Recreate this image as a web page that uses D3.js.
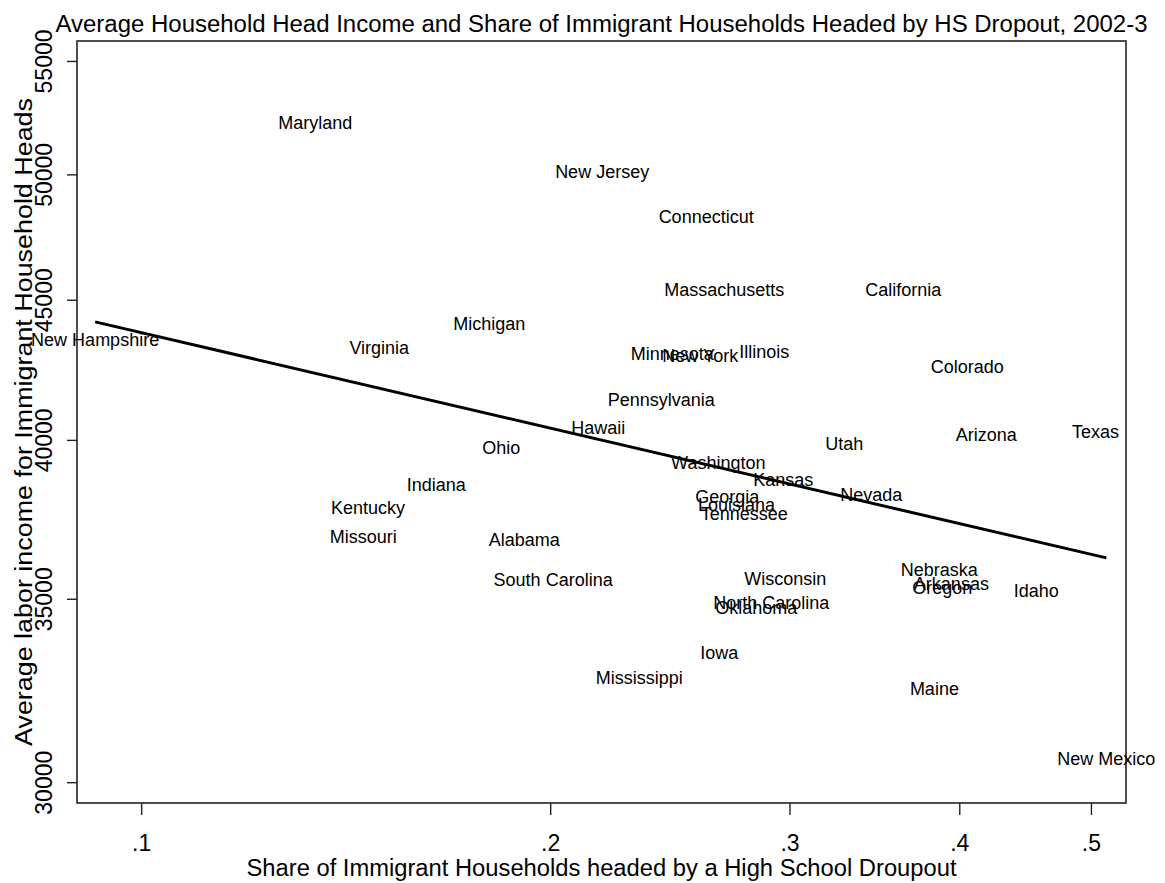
<!DOCTYPE html>
<html>
<head>
<meta charset="utf-8">
<script src="https://cdn.jsdelivr.net/npm/d3@7"></script>
<style>
  body { margin: 0; background: #fff; }
  text { font-family: "Liberation Sans", Arial, sans-serif; fill: #000; }
</style>
</head>
<body>
<div id="chart"></div>
<script>
const w = 1165;
const h = 883;

// state labels, share of immigrant households headed by a HS dropout, avg income
const states = ["Maryland", "New Jersey", "Connecticut", "Massachusetts", "California",
    "Michigan", "Virginia", "New Hampshire", "Minnesota", "New York", "Illinois",
    "Colorado", "Pennsylvania", "Hawaii", "Ohio", "Utah", "Arizona", "Texas",
    "Washington", "Kansas", "Indiana", "Nevada", "Georgia", "Louisiana", "Tennessee",
    "Kentucky", "Missouri", "Alabama", "Nebraska", "Arkansas", "Oregon", "Idaho",
    "South Carolina", "Wisconsin", "North Carolina", "Oklahoma", "Iowa",
    "Mississippi", "Maine", "New Mexico"];
const share = [0.1343, 0.2184, 0.2605, 0.2686, 0.3638,
    0.1804, 0.1497, 0.0925, 0.2460, 0.2579, 0.2875,
    0.4055, 0.2414, 0.2170, 0.1841, 0.3292, 0.4188, 0.5038,
    0.2659, 0.2969, 0.1649, 0.3446, 0.2700, 0.2742, 0.2779,
    0.1469, 0.1457, 0.1914, 0.3867, 0.3947, 0.3887, 0.4558,
    0.2010, 0.2979, 0.2909, 0.2836, 0.2664,
    0.2326, 0.3835, 0.5132];
const income = [52200, 50100, 48240, 45370, 45400,
    44120, 43240, 43500, 42990, 42950, 43070,
    42520, 41360, 40400, 39730, 39860, 40160, 40260,
    39230, 38670, 38510, 38190, 38150, 37870, 37580,
    37770, 36860, 36770, 35880, 35460, 35340, 35230,
    35580, 35610, 34870, 34750, 33440,
    32740, 32440, 30610];
const xTicks = [0.1, 0.2, 0.3, 0.4, 0.5];
const yTicks = [30000, 35000, 40000, 45000, 50000, 55000];

const plot = { left: 77, right: 1126, top: 41, bottom: 803 };

const svg = d3.select("#chart").append("svg")
    .attr("width", w)
    .attr("height", h);

const x = d3.scaleLog().domain([0.0897, 0.5306]).range([plot.left, plot.right]);
const y = d3.scaleLog().domain([29480, 55930]).range([plot.bottom, plot.top]);

const data = states.map((s, i) => ({ name: s, x: share[i], y: income[i] }));

// frame
svg.append("rect")
    .attr("x", plot.left).attr("y", plot.top)
    .attr("width", plot.right - plot.left).attr("height", plot.bottom - plot.top)
    .attr("fill", "none").attr("stroke", "#222").attr("stroke-width", 1.6);

// x axis
const xAxis = svg.append("g")
    .attr("transform", `translate(0,${plot.bottom})`)
    .call(d3.axisBottom(x).tickValues(xTicks).tickSize(12).tickPadding(20)
        .tickFormat(d => d3.format(".1f")(d).replace(/^0/, "")));
xAxis.select(".domain").remove();
xAxis.selectAll("line").attr("stroke", "#222").attr("stroke-width", 1.4);
xAxis.selectAll("text").attr("font-size", 23).attr("fill", "#000")
    .style("font-family", "Liberation Sans, Arial, sans-serif");

// y axis
const yAxis = svg.append("g")
    .attr("transform", `translate(${plot.left},0)`)
    .call(d3.axisLeft(y).tickValues(yTicks).tickSize(10).tickFormat(d3.format("d")));
yAxis.select(".domain").remove();
yAxis.selectAll("line").attr("stroke", "#222").attr("stroke-width", 1.4);
yAxis.selectAll("text")
    .attr("font-size", 23).attr("fill", "#000")
    .style("font-family", "Liberation Sans, Arial, sans-serif")
    .attr("text-anchor", "middle")
    .attr("x", 0).attr("dy", 0)
    .attr("transform", "translate(-25,0) rotate(-90)");

// fitted line: OLS on logs
const lx = data.map(d => Math.log(d.x));
const ly = data.map(d => Math.log(d.y));
const mx = d3.mean(lx), my = d3.mean(ly);
const b = d3.sum(lx, (v, i) => (v - mx) * (ly[i] - my)) / d3.sum(lx, v => (v - mx) * (v - mx));
const a = my - b * mx;
const ext = d3.extent(share);
const fit = ext.map(v => ({ x: v, y: Math.exp(a + b * Math.log(v)) }));

svg.append("path")
    .datum(fit)
    .attr("fill", "none")
    .attr("stroke", "#000")
    .attr("stroke-width", 3)
    .attr("d", d3.line().x(d => x(d.x)).y(d => y(d.y)));

// state labels centred on the point
svg.append("g").selectAll("text")
    .data(data)
    .enter()
    .append("text")
    .attr("x", d => x(d.x))
    .attr("y", d => y(d.y))
    .attr("dy", "0.35em")
    .attr("text-anchor", "middle")
    .attr("font-size", 18)
    .text(d => d.name);

// titles
svg.append("text")
    .attr("x", (plot.left + plot.right) / 2)
    .attr("y", 32)
    .attr("text-anchor", "middle")
    .attr("font-size", 23)
    .attr("textLength", 1092)
    .attr("lengthAdjust", "spacingAndGlyphs")
    .text("Average Household Head Income and Share of Immigrant Households Headed by HS Dropout, 2002-3");

svg.append("text")
    .attr("x", (plot.left + plot.right) / 2)
    .attr("y", 876)
    .attr("text-anchor", "middle")
    .attr("font-size", 23)
    .attr("textLength", 710)
    .attr("lengthAdjust", "spacingAndGlyphs")
    .text("Share of Immigrant Households headed by a High School Droupout");

svg.append("text")
    .attr("transform", `translate(32,${(plot.top + plot.bottom) / 2}) rotate(-90)`)
    .attr("text-anchor", "middle")
    .attr("font-size", 23)
    .attr("textLength", 648)
    .attr("lengthAdjust", "spacingAndGlyphs")
    .text("Average labor income for Immigrant Household Heads");
</script>
</body>
</html>
